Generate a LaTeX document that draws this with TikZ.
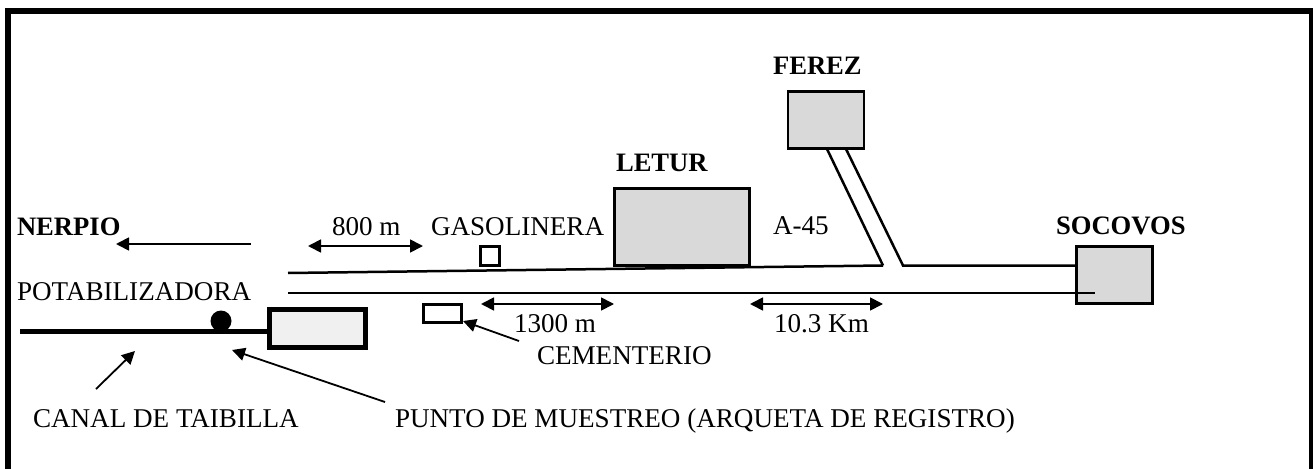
\documentclass[tikz,border=0pt]{standalone}
\usepackage{fontspec}
\setmainfont{Liberation Serif}
\usetikzlibrary{arrows.meta}
\definecolor{towngrey}{HTML}{D9D9D9}
\definecolor{plantgrey}{HTML}{F0F0F0}
\tikzset{
  x=1pt,y=-1pt,
  lbl/.style={anchor=base west,inner sep=0pt,outer sep=0pt,font=\fontsize{27.1}{30}\selectfont},
  blbl/.style={lbl,font=\fontsize{26.6}{30}\selectfont\bfseries},
  town/.style={draw=black,fill=towngrey,line width=2.5pt,inner sep=0pt,outer sep=0pt},
  smallbox/.style={draw=black,fill=white,line width=2.5pt,inner sep=0pt,outer sep=0pt},
  road/.style={draw=black,line width=2.5pt},
  pointer/.style={draw=black,line width=1.8pt,-{Triangle[length=13pt,width=13pt]}},
  span/.style={draw=black,line width=1.8pt,{Triangle[length=13pt,width=13pt]}-{Triangle[length=13pt,width=13pt]}}
}
\begin{document}
\begin{tikzpicture}
\useasboundingbox (0,0) rectangle (1313,468);
\fill[white] (0,0) rectangle (1313,468);
\draw[line width=6pt,line join=miter] (8,480) -- (8,11) -- (1312,11) -- (1312,480);

% boxes
\node[town,minimum width=76pt,minimum height=57pt] (ferez) at (826,120) {};
\node[town,minimum width=135pt,minimum height=77pt] (letur) at (682,227) {};
\node[smallbox,minimum width=19pt,minimum height=19pt] (gas) at (490,256) {};
\node[smallbox,minimum width=38pt,minimum height=18pt] (cem) at (442.5,313.5) {};

% roads
\coordinate (roadW1) at (288,273);
\coordinate (roadW2) at (288,293);
\coordinate (j1) at (883,265.5);
\coordinate (j2) at (903,265.5);
\coordinate (f1) at (827,149);
\coordinate (f2) at (846,149);
\coordinate (s1) at (1076,265.5);
\coordinate (s2) at (1095,293);
\node[town,minimum width=76pt,minimum height=57pt] (socovos) at (1114.5,275) {};
\draw[road] (roadW1) -- (j1) (f1) -- (j1);
\draw[road] (f2) -- (j2) -- (s1);
\draw[road] (roadW2) -- (s2);

% canal and plant
\coordinate (canalW) at (20,331);
\node[draw=black,fill=plantgrey,line width=5pt,minimum width=96pt,minimum height=38pt,inner sep=0pt,outer sep=2.5pt] (plant) at (317.5,328.5) {};
\draw[line width=5pt] (canalW) -- (plant.west |- canalW);
\node[circle,fill=black,minimum size=21pt,inner sep=0pt] (punto) at (221,321) {};

% arrows
\coordinate (nerE) at (251,244); \coordinate (nerW) at (116,244);
\draw[pointer] (nerE) -- (nerW);
\coordinate (a1) at (308,246); \coordinate (a2) at (423,246);
\draw[span] (a1) -- (a2);
\coordinate (b1) at (481,304); \coordinate (b2) at (614,304);
\draw[span] (b1) -- (b2);
\coordinate (c1) at (750,304); \coordinate (c2) at (883,304);
\draw[span] (c1) -- (c2);
\coordinate (cemT) at (519,341); \coordinate (cemH) at (463,321);
\draw[pointer] (cemT) -- (cemH);
\coordinate (canT) at (96,389); \coordinate (canH) at (135,351);
\draw[pointer] (canT) -- (canH);
\coordinate (punT) at (385,402); \coordinate (punH) at (232,350);
\draw[pointer] (punT) -- (punH);

% labels
\node[blbl] (tNerpio) at (17,235) {NERPIO};
\node[lbl] (tPotab) at (17,300) {POTABILIZADORA};
\node[lbl] (t800) at (332,235) {800 m};
\node[lbl] (tGas) at (431,235) {GASOLINERA};
\node[blbl] (tLetur) at (616,171) {LETUR};
\node[blbl] (tFerez) at (773,75) {FEREZ};
\node[lbl] (tA45) at (773,234) {A-45};
\node[blbl] (tSoc) at (1056,234) {SOCOVOS};
\node[lbl] (t1300) at (514,332) {1300 m};
\node[lbl] (t103) at (774,332) {10.3 Km};
\node[lbl] (tCem) at (537,364) {CEMENTERIO};
\node[lbl] (tCanal) at (33,427) {CANAL DE TAIBILLA};
\node[lbl] (tPunto) at (395,427) {PUNTO DE MUESTREO (ARQUETA DE REGISTRO)};
\end{tikzpicture}
\end{document}
